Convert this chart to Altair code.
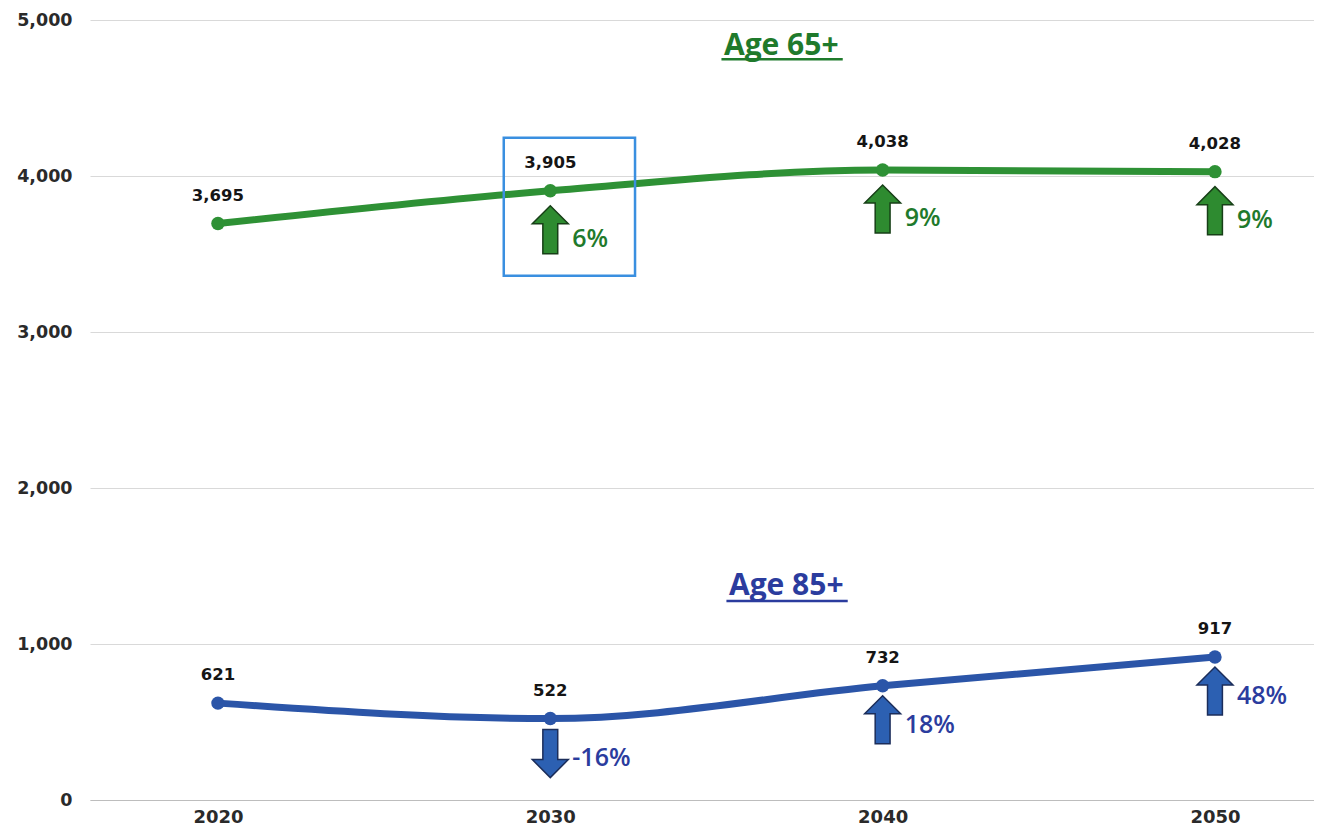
import altair as alt
import pandas as pd

years = [2020, 2030, 2040, 2050]
age65 = [3695, 3905, 4038, 4028]
age85 = [621, 522, 732, 917]
pct65 = [None, 6, 9, 9]
pct85 = [None, -16, 18, 48]

series_names = ["Age 65+", "Age 85+"]
title_x = [2036.95, 2037.1]
title_y = [4835, 1370]
underline_x = [[2035.15, 2038.8], [2035.3, 2038.95]]
underline_y = [4748, 1275]

highlight_x = [2028.6, 2032.55]
highlight_y = [3360, 4245]

y_ticks = [0, 1000, 2000, 3000, 4000, 5000]

LINE = {"Age 65+": "#2E9135", "Age 85+": "#2B55A8"}
TXT = {"Age 65+": "#1F7A2C", "Age 85+": "#2B3C9E"}
ARROW_FILL = {"Age 65+": "#2E8B30", "Age 85+": "#2C60B2"}
ARROW_STROKE = {"Age 65+": "#173F17", "Age 85+": "#1B2D5A"}

UP = "M-0.31,1 L-0.31,-0.25 L-0.75,-0.25 L0,-1 L0.75,-0.25 L0.31,-0.25 L0.31,1 Z"
DOWN = "M-0.31,-1 L-0.31,0.25 L-0.75,0.25 L0,1 L0.75,0.25 L0.31,0.25 L0.31,-1 Z"

xscale = alt.Scale(domain=[2016.15, 2052.98], nice=False, zero=False)
yscale = alt.Scale(domain=[0, 5000], nice=False)

xaxis = alt.Axis(values=years, format="d", title=None, grid=False)
yaxis = alt.Axis(values=y_ticks, format=",.0f", title=None, grid=True)


def X(f="year"):
    return alt.X(f + ":Q", scale=xscale, axis=xaxis)


def Y(f="value"):
    return alt.Y(f + ":Q", scale=yscale, axis=yaxis)


def series_layers(name, vals, pcts, arrow_off, pct_off):
    df = pd.DataFrame({"year": years, "value": vals, "pct": pcts})
    df["pctlabel"] = [("" if p is None else f"{int(p)}%") for p in pcts]
    base = alt.Chart(df)
    line = base.mark_line(color=LINE[name], strokeWidth=7,
                          interpolate="monotone").encode(x=X(), y=Y())
    pts = base.mark_circle(color=LINE[name], size=180, opacity=1).encode(
        x=X(), y=Y())
    lbl = base.mark_text(dy=-28, fontSize=16.5, fontWeight="bold",
                         color="#151515", font="DejaVu Sans").encode(
        x=X(), y=Y(), text=alt.Text("value:Q", format=",.0f"))
    up = base.transform_filter("datum.pct != null && datum.pct > 0").mark_point(
        shape=UP, size=2304, filled=True, fill=ARROW_FILL[name],
        stroke=ARROW_STROKE[name], strokeWidth=1.5, opacity=1,
        yOffset=arrow_off).encode(x=X(), y=Y())
    down = base.transform_filter("datum.pct != null && datum.pct < 0").mark_point(
        shape=DOWN, size=2304, filled=True, fill=ARROW_FILL[name],
        stroke=ARROW_STROKE[name], strokeWidth=1.5, opacity=1,
        yOffset=arrow_off + 1).encode(x=X(), y=Y())
    pct = base.transform_filter("datum.pct != null").mark_text(
        align="left", baseline="middle", dx=22, yOffset=pct_off, fontSize=25,
        fontWeight=600, color=TXT[name], font="Open Sans").encode(
        x=X(), y=Y(), text="pctlabel:N")
    return [line, pts, lbl, up, down, pct]


layers = []
layers += series_layers("Age 65+", age65, pct65, 39, 48)
layers += series_layers("Age 85+", age85, pct85, 34, 39)

tdf = pd.DataFrame({"name": series_names, "tx": title_x, "ty": title_y,
                    "ux1": [u[0] for u in underline_x],
                    "ux2": [u[1] for u in underline_x], "uy": underline_y})
cscale = alt.Scale(domain=series_names, range=[TXT["Age 65+"], TXT["Age 85+"]])
titles = alt.Chart(tdf).mark_text(fontSize=30, fontWeight="bold",
                                  font="Open Sans", baseline="middle").encode(
    x=X("tx"), y=Y("ty"), text="name:N",
    color=alt.Color("name:N", scale=cscale, legend=None))
underlines = alt.Chart(tdf).mark_rule(strokeWidth=2.5).encode(
    x=X("ux1"), x2="ux2:Q", y=Y("uy"),
    color=alt.Color("name:N", scale=cscale, legend=None))

hdf = pd.DataFrame({"x1": [highlight_x[0]], "x2": [highlight_x[1]],
                    "y1": [highlight_y[0]], "y2": [highlight_y[1]]})
box = alt.Chart(hdf).mark_rect(fill="transparent", stroke="#3A8FE0",
                               strokeWidth=2.5).encode(
    x=X("x1"), x2="x2:Q", y=Y("y1"), y2="y2:Q")

chart = alt.layer(*layers, titles, underlines, box).properties(
    width=1224, height=780,
    padding={"left": 82, "top": 12, "right": 0, "bottom": 30},
    autosize=alt.AutoSizeParams(type="none"),
    background="white",
).configure_view(stroke=None).configure_axisX(
    ticks=False, domain=True, domainColor="#bdbdbd", labelFontSize=18,
    labelFontWeight="bold", labelColor="#2a2a2a", labelPadding=8,
    labelFont="DejaVu Sans"
).configure_axisY(
    gridColor="#d9d9d9", ticks=False, domain=False, labelFontSize=17.5,
    labelFontWeight="bold", labelColor="#2a2a2a", labelPadding=18,
    labelFont="DejaVu Sans"
)

chart.save("out.html", embed_options={"renderer": "svg", "actions": False})
